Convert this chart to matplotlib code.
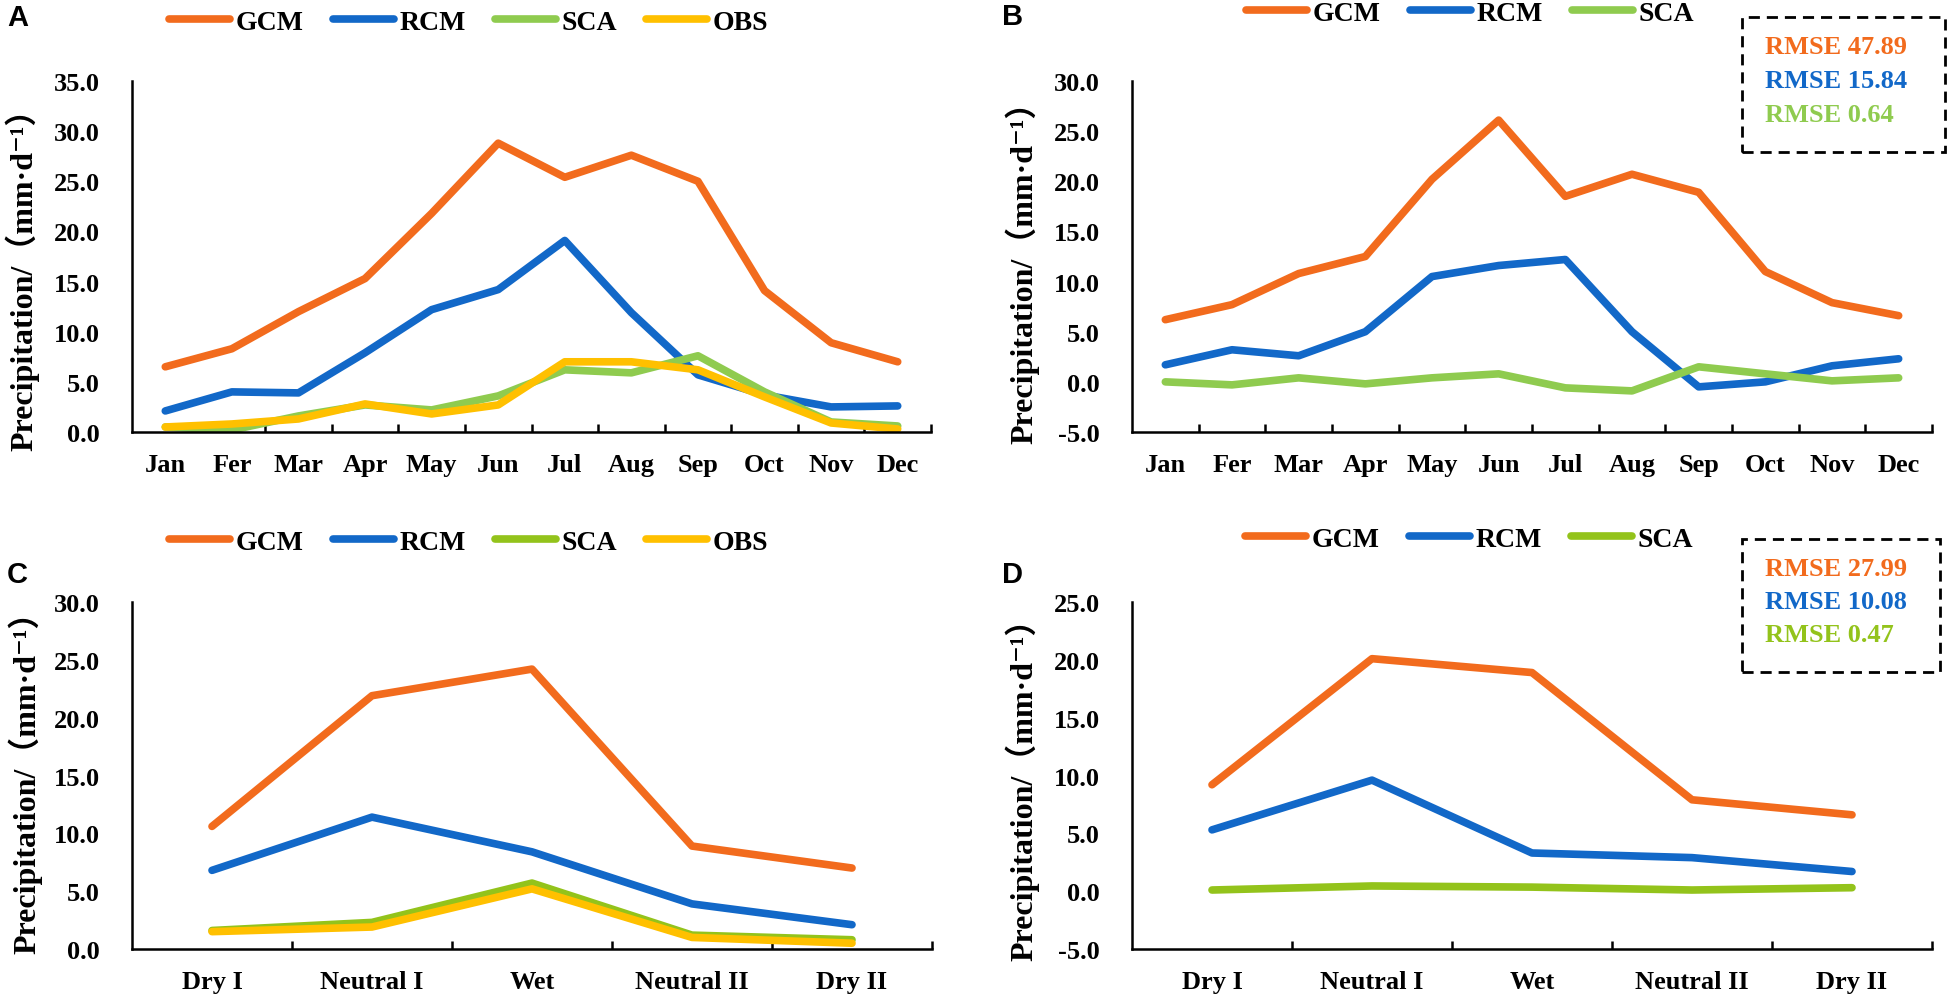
import matplotlib
matplotlib.use("Agg")
import matplotlib.pyplot as plt
from matplotlib.patches import Rectangle
from matplotlib.ticker import FixedLocator, FormatStrFormatter, NullLocator
import numpy as np

# ── Data (mm/day) ─────────────────────────────────────────────────────────────

months = ["Jan", "Fer", "Mar", "Apr", "May", "Jun",
          "Jul", "Aug", "Sep", "Oct", "Nov", "Dec"]
periods = ["Dry I", "Neutral I", "Wet", "Neutral II", "Dry II"]

# A: monthly precipitation
a_gcm = [6.5, 8.3, 12.0, 15.3, 21.8, 28.8, 25.4, 27.6, 25.0, 14.1, 8.9, 7.0]
a_rcm = [2.1, 4.0, 3.9, 7.9, 12.2, 14.2, 19.1, 11.9, 5.7, 3.7, 2.5, 2.6]
a_sca = [0.5, 0.2, 1.6, 2.7, 2.2, 3.6, 6.2, 5.9, 7.6, 4.0, 1.0, 0.6]
a_obs = [0.5, 0.8, 1.3, 2.8, 1.8, 2.7, 7.0, 7.0, 6.2, 3.5, 0.9, 0.3]

# B: monthly bias
b_gcm = [6.2, 7.7, 10.8, 12.5, 20.2, 26.1, 18.5, 20.7, 18.9, 11.0, 7.9, 6.6]
b_rcm = [1.7, 3.2, 2.6, 5.0, 10.5, 11.6, 12.2, 5.0, -0.5, 0.0, 1.6, 2.3]
b_sca = [0.0, -0.3, 0.4, -0.2, 0.4, 0.8, -0.6, -0.9, 1.5, 0.8, 0.1, 0.4]
b_rmse = ["RMSE 47.89", "RMSE 15.84", "RMSE 0.64"]

# C: precipitation by period
c_gcm = [10.6, 21.9, 24.2, 8.9, 7.0]
c_rcm = [6.8, 11.4, 8.4, 3.9, 2.1]
c_sca = [1.6, 2.3, 5.7, 1.2, 0.8]
c_obs = [1.5, 1.9, 5.2, 1.0, 0.5]

# D: bias by period
d_gcm = [9.2, 20.1, 18.9, 7.9, 6.6]
d_rcm = [5.3, 9.6, 3.3, 2.9, 1.7]
d_sca = [0.1, 0.45, 0.35, 0.1, 0.3]
d_rmse = ["RMSE 27.99", "RMSE 10.08", "RMSE 0.47"]

# ── Style ─────────────────────────────────────────────────────────────────────

ORANGE = "#F26B1D"
BLUE = "#1268C8"
GREEN = "#8FCB4F"      # panels A/B
GREEN2 = "#93C31B"     # panels C/D
YELLOW = "#FFC000"

YLABEL = "Precipitation/（mm·d⁻¹）"

W, H = 1950, 1003
plt.rcParams["font.family"] = ["Liberation Serif", "DejaVu Serif", "Noto Sans CJK SC"]
plt.rcParams["font.weight"] = "bold"
plt.rcParams["axes.unicode_minus"] = False

fig = plt.figure(figsize=(W / 100, H / 100), dpi=100)


def fx(px):
    return px / W


def fy(py):
    return 1 - py / H


def panel(box, labels, series, yticks, bounds, letter, letter_xy,
          ylabel_xy, legend_xy, rmse=None, rmse_box=None):
    """Draw one Excel-style line panel; box = (left, top, right, bottom) px."""
    left, top, right, bottom = box
    ax = fig.add_axes([fx(left), fy(bottom), (right - left) / W, (bottom - top) / H])
    x = np.arange(len(labels))
    for name, vals, color in series:
        ax.plot(x, vals, color=color, lw=5.5, label=name,
                solid_capstyle="round", solid_joinstyle="round")

    ax.set_xlim(-0.5, len(labels) - 0.5)
    ax.set_ylim(yticks[0], yticks[-1])
    ax.set_yticks(yticks)
    ax.yaxis.set_major_formatter(FormatStrFormatter("%.1f"))
    ax.set_xticks(x)
    ax.set_xticklabels(labels)
    ax.xaxis.set_minor_locator(FixedLocator(bounds))
    ax.yaxis.set_minor_locator(NullLocator())

    for s in ("top", "right"):
        ax.spines[s].set_visible(False)
    for s in ("left", "bottom"):
        ax.spines[s].set_linewidth(1.8)
        ax.spines[s].set_color("black")
    ax.tick_params(axis="y", length=0, pad=23, labelsize=19)
    ax.tick_params(axis="x", which="major", length=0, pad=15, labelsize=19)
    ax.tick_params(axis="x", which="minor", direction="in", length=6, width=1.8)

    fig.text(fx(ylabel_xy[0]), fy(ylabel_xy[1]), YLABEL, rotation=90,
             ha="center", va="center", fontsize=23, fontweight="bold")
    fig.text(fx(letter_xy[0]), fy(letter_xy[1]), letter, ha="center", va="center",
             family="Liberation Sans", fontsize=21, fontweight="bold")

    ax.legend(loc="center left", bbox_to_anchor=(fx(legend_xy[0]), fy(legend_xy[1])),
              bbox_transform=fig.transFigure, ncol=len(series), frameon=False,
              fontsize=20, handlelength=2.2, handletextpad=0.2,
              columnspacing=1.05, borderpad=0, borderaxespad=0)

    if rmse:
        bx0, by0, bx1, by1 = rmse_box
        fig.patches.append(Rectangle((fx(bx0), fy(by1)), (bx1 - bx0) / W, (by1 - by0) / H,
                                     transform=fig.transFigure, fill=False,
                                     edgecolor="black", lw=2.0,
                                     linestyle=(0, (4, 2.5))))
        step = (by1 - by0) / 4.0
        for i, (txt, (_, _, col)) in enumerate(zip(rmse, series)):
            fig.text(fx(bx0 + 23), fy(by0 + step * (i + 1) - 4), txt, color=col,
                     ha="left", va="center", fontsize=19, fontweight="bold")
    return ax


panel((132, 82, 931, 433), months,
      [("GCM", a_gcm, ORANGE), ("RCM", a_rcm, BLUE),
       ("SCA", a_sca, GREEN), ("OBS", a_obs, YELLOW)],
      np.arange(0, 35.1, 5), np.arange(1.5, 12, 1.0),
      "A", (18, 18), (22, 272), (169, 23))

panel((1132, 82, 1932, 433), months,
      [("GCM", b_gcm, ORANGE), ("RCM", b_rcm, BLUE), ("SCA", b_sca, GREEN)],
      np.arange(-5, 30.1, 5), np.arange(0.5, 12, 1.0),
      "B", (1013, 17), (1022, 265), (1246, 14),
      rmse=b_rmse, rmse_box=(1742, 18, 1945, 153))

panel((132, 603, 932, 950), periods,
      [("GCM", c_gcm, ORANGE), ("RCM", c_rcm, BLUE),
       ("SCA", c_sca, GREEN2), ("OBS", c_obs, YELLOW)],
      np.arange(0, 30.1, 5), np.arange(0.5, 5, 1.0),
      "C", (17, 575), (25, 775), (169, 543))

panel((1132, 603, 1932, 950), periods,
      [("GCM", d_gcm, ORANGE), ("RCM", d_rcm, BLUE), ("SCA", d_sca, GREEN2)],
      np.arange(-5, 25.1, 5), np.arange(0.5, 5, 1.0),
      "D", (1013, 575), (1022, 782), (1245, 540),
      rmse=d_rmse, rmse_box=(1742, 540, 1940, 673))

fig.savefig("out.png", dpi=100)
